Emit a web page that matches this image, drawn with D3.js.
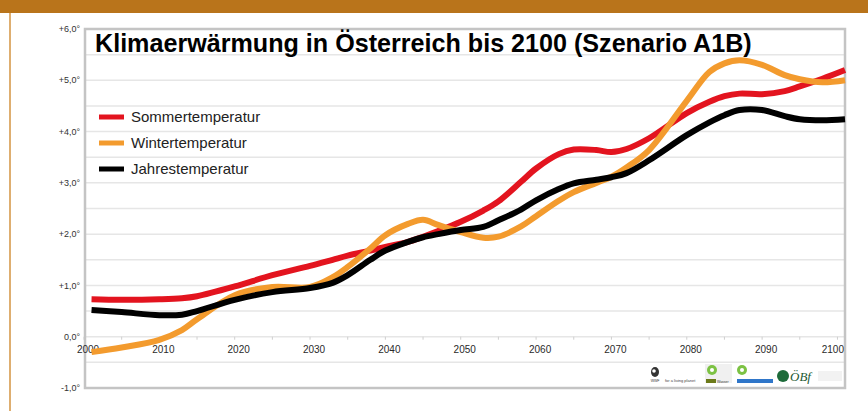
<!DOCTYPE html>
<html>
<head>
<meta charset="utf-8">
<script src="https://cdn.jsdelivr.net/npm/d3@7"></script>
<style>
  html, body { margin: 0; padding: 0; background: #fff; }
  svg { display: block; font-family: "Liberation Sans", Arial, sans-serif; }
</style>
</head>
<body>
<svg id="chart" width="868" height="411"></svg>
<script>
// ---- data ----
const years = [2001, 2005, 2010, 2013, 2015, 2020, 2025, 2030, 2033, 2035, 2038, 2040, 2043, 2045, 2047, 2050, 2053, 2055, 2058, 2060, 2063, 2065, 2068, 2070, 2072, 2075, 2080, 2083, 2085, 2087, 2090, 2093, 2095, 2098, 2101];
const sommer = [0.73, 0.72, 0.73, 0.75, 0.79, 0.98, 1.20, 1.38, 1.50, 1.58, 1.68, 1.75, 1.85, 1.95, 2.06, 2.24, 2.46, 2.64, 3.02, 3.28, 3.56, 3.65, 3.64, 3.60, 3.66, 3.87, 4.36, 4.58, 4.69, 4.74, 4.73, 4.79, 4.88, 5.03, 5.20];
const winter = [-0.30, -0.21, -0.06, 0.13, 0.34, 0.81, 0.97, 0.97, 1.16, 1.36, 1.72, 1.98, 2.20, 2.28, 2.18, 2.04, 1.93, 1.95, 2.15, 2.35, 2.65, 2.82, 3.00, 3.12, 3.30, 3.64, 4.60, 5.16, 5.33, 5.39, 5.30, 5.10, 5.02, 4.96, 5.00];
const jahr = [0.52, 0.48, 0.42, 0.43, 0.50, 0.72, 0.87, 0.95, 1.05, 1.20, 1.50, 1.68, 1.85, 1.94, 2.00, 2.08, 2.14, 2.27, 2.48, 2.66, 2.88, 2.99, 3.06, 3.11, 3.19, 3.44, 3.93, 4.18, 4.32, 4.42, 4.42, 4.30, 4.24, 4.22, 4.24];
const seriesNames = ["Sommertemperatur", "Wintertemperatur", "Jahrestemperatur"];
const seriesColors = ["#e3141f", "#f39b2e", "#000000"];
const yTickValues = [-1, 0, 1, 2, 3, 4, 5, 6];
const yTickLabels = ["-1,0°", "0,0°", "+1,0°", "+2,0°", "+3,0°", "+4,0°", "+5,0°", "+6,0°"];
const xTickValues = [2000, 2010, 2020, 2030, 2040, 2050, 2060, 2070, 2080, 2090, 2100];
const title = "Klimaerwärmung in Österreich bis 2100 (Szenario A1B)";

// ---- layout ----
const svg = d3.select("#chart");
const plot = { left: 85, right: 845, top: 29, bottom: 388 };
const x = d3.scaleLinear().domain([2000, 2101]).range([plot.left - 1, plot.right]);
const y = d3.scaleLinear().domain([-1, 6]).range([plot.bottom, plot.top]);

// frame decorations
svg.append("rect").attr("x", 0).attr("y", 0).attr("width", 868).attr("height", 13).attr("fill", "#b9741b");
svg.append("line").attr("x1", 10).attr("x2", 10).attr("y1", 13).attr("y2", 411)
  .attr("stroke", "#d39340").attr("stroke-width", 1.5);

// gridlines every 0.5
const gridVals = d3.range(-1, 6.01, 0.5);
svg.append("g").selectAll("line").data(gridVals).join("line")
  .attr("x1", plot.left).attr("x2", plot.right)
  .attr("y1", d => y(d)).attr("y2", d => y(d))
  .attr("stroke", "#e6e6e6").attr("stroke-width", 1.5);

// x tick marks every 5 years on 0-line
svg.append("g").selectAll("line").data(d3.range(2000, 2101, 5)).join("line")
  .attr("x1", d => x(d)).attr("x2", d => x(d))
  .attr("y1", y(0)).attr("y2", y(0) + 3)
  .attr("stroke", "#cfcfcf").attr("stroke-width", 1);

// plot frame
svg.append("rect")
  .attr("x", plot.left).attr("y", plot.top)
  .attr("width", plot.right - plot.left).attr("height", plot.bottom - plot.top)
  .attr("fill", "none").attr("stroke", "#c4c4c4").attr("stroke-width", 2.5);

// y labels
svg.append("g").selectAll("text").data(yTickValues).join("text")
  .attr("x", 80).attr("y", d => y(d)).attr("dy", "0.35em")
  .attr("text-anchor", "end").attr("font-size", 9).attr("fill", "#333")
  .text((d, i) => yTickLabels[i]);

// x labels
svg.append("g").selectAll("text").data(xTickValues).join("text")
  .attr("x", d => d === 2100 ? plot.right - 1 : x(d) + 4)
  .attr("y", 353)
  .attr("text-anchor", d => d === 2100 ? "end" : "middle")
  .attr("font-size", 10).attr("fill", "#2a2a2a")
  .text(d => d);

// lines
const data = [sommer, winter, jahr];
const line = d3.line().x((d, i) => x(years[i])).y(d => y(d)).curve(d3.curveCatmullRom.alpha(0.5));
[0, 1, 2].forEach(k => {
  svg.append("path").datum(data[k])
    .attr("d", line).attr("fill", "none")
    .attr("stroke", seriesColors[k]).attr("stroke-width", 6)
    .attr("stroke-linejoin", "round");
});

// title
const t = svg.append("text").attr("x", 95).attr("y", 52)
  .attr("font-size", 24).attr("font-weight", "bold").attr("fill", "#000")
  .text(title);
const tl = t.node().getComputedTextLength();
t.attr("font-size", 24 * 657 / tl);

// legend
const lg = svg.append("g");
seriesNames.forEach((name, i) => {
  const yy = 117 + i * 26;
  lg.append("line").attr("x1", 99).attr("x2", 124).attr("y1", yy).attr("y2", yy)
    .attr("stroke", seriesColors[i]).attr("stroke-width", 5);
  lg.append("text").attr("x", 131).attr("y", yy).attr("dy", "0.35em")
    .attr("font-size", 15).attr("fill", "#222").text(name);
});

// logos (simplified)
const logo = svg.append("g");
// WWF panda
logo.append("ellipse").attr("cx", 655).attr("cy", 372).attr("rx", 4).attr("ry", 5).attr("fill", "#333");
logo.append("circle").attr("cx", 654).attr("cy", 371).attr("r", 1.8).attr("fill", "#fff");
logo.append("text").attr("x", 655).attr("y", 382).attr("text-anchor", "middle").attr("font-size", 3.5).attr("fill", "#333").text("WWF");
logo.append("text").attr("x", 665).attr("y", 382).attr("font-size", 4).attr("fill", "#444").text("for a living planet");
// green logo 1
logo.append("rect").attr("x", 705).attr("y", 364).attr("width", 27).attr("height", 19).attr("fill", "#f0f0f0");
logo.append("circle").attr("cx", 712).attr("cy", 370).attr("r", 5).attr("fill", "#7cc243");
logo.append("circle").attr("cx", 712).attr("cy", 370).attr("r", 2).attr("fill", "#fff");
logo.append("rect").attr("x", 706).attr("y", 379).attr("width", 10).attr("height", 4).attr("fill", "#6c7a1a");
logo.append("text").attr("x", 717).attr("y", 382.5).attr("font-size", 3.5).attr("fill", "#333").text("Wasser");
// green logo 2
logo.append("circle").attr("cx", 742).attr("cy", 370).attr("r", 5).attr("fill", "#7cc243");
logo.append("circle").attr("cx", 742).attr("cy", 370).attr("r", 2).attr("fill", "#fff");
logo.append("rect").attr("x", 737).attr("y", 379).attr("width", 36).attr("height", 4).attr("fill", "#2f76c9");
// ÖBf
logo.append("circle").attr("cx", 783).attr("cy", 376).attr("r", 6).attr("fill", "#1d6b3a");
logo.append("text").attr("x", 790).attr("y", 381).attr("font-size", 13).attr("font-style", "italic")
  .attr("font-family", "Liberation Serif, serif").attr("fill", "#1d5a33").text("ÖBf");
logo.append("rect").attr("x", 818).attr("y", 371).attr("width", 24).attr("height", 10).attr("fill", "#f2f2f2");
</script>
</body>
</html>
